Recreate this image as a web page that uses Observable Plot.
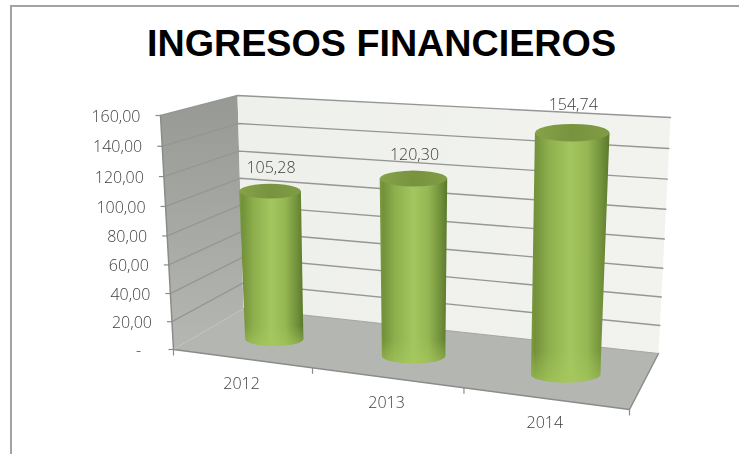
<!DOCTYPE html>
<html lang="es">
<head>
<meta charset="utf-8">
<script src="https://cdn.jsdelivr.net/npm/d3@7"></script>
<script src="https://cdn.jsdelivr.net/npm/@observablehq/plot@0.6"></script>
<style>
  html, body { margin: 0; padding: 0; background: #fff; }
  #page { position: relative; width: 739px; height: 454px; overflow: hidden; }
  #frame { position: absolute; left: 10px; top: 5px; right: -4px; bottom: -4px;
           border-left: 2px solid #a3a3a3; border-top: 2px solid #a3a3a3; }
  #title { position: relative; box-sizing: border-box; height: 80px; width: 739px; padding: 21px 0 0 24px;
           text-align: center; font: bold 37.7px/44px "Liberation Sans", Arial, sans-serif; color: #000; white-space: nowrap; }
  #chart { position: relative; display: block; }
  #chart svg { display: block; filter: blur(0.3px); }
</style>
</head>
<body>
<div id="page">
  <div id="frame"></div>
  <div id="title">INGRESOS FINANCIEROS</div>
  <div id="chart"></div>
</div>
<script>
// ---- data ----
const categories = ["2012", "2013", "2014"];
const values = [105.28, 120.30, 154.74];
const valueLabels = ["105,28", "120,30", "154,74"];
const axisTicks = [0, 20, 40, 60, 80, 100, 120, 140, 160];
const axisLabels = ["-\u00a0\u00a0\u00a0", "20,00", "40,00", "60,00", "80,00", "100,00", "120,00", "140,00", "160,00"];

// ---- 3D view model: maps (category position, depth, value) to the plane of the plot ----
const vMax = 160;
const view = {
  fl0: [173, 349], fl1: [160, 115],   // front-left, value 0 / max
  bl0: [243, 308], bl1: [237, 95],    // back-left
  br0: [658, 353], br1: [670, 117],   // back-right
  fr0: [629, 409], fr1: [638, 136],   // front-right
  uPersp: 0.14, vPersp: 0.06
};
const mix = (a, b, t) => [a[0] + (b[0] - a[0]) * t, a[1] + (b[1] - a[1]) * t];
function project(u, d, v) {
  const su = u / categories.length, sv = v / vMax;
  const t = su / (1 + view.uPersp * (1 - su));
  const w = sv / (1 + view.vPersp * (1 - sv));
  const front = mix(mix(view.fl0, view.fr0, t), mix(view.fl1, view.fr1, t), w);
  const back = mix(mix(view.bl0, view.br0, t), mix(view.bl1, view.br1, t), w);
  return mix(front, back, d);
}
const nU = categories.length;
const bar = { center: 0.525, depth: 0.46, radius: 0.218, capRatio: 0.235, labelLift: [23, 24, 28] };
const arc = (c, rx, from, to) => d3.range(0, 25).map(i => {
  const a = from + (to - from) * i / 24;
  return [c[0] + rx * Math.cos(a), c[1] + rx * bar.capRatio * Math.sin(a)];
});
const rxAt = (u, v) => {
  const a = project(u - bar.radius, bar.depth, v), b = project(u + bar.radius, bar.depth, v);
  return (b[0] - a[0]) / 2;
};
const cylinders = categories.map((c, i) => {
  const u = i + bar.center, v = values[i];
  const base = project(u, bar.depth, 0), top = project(u, bar.depth, v);
  const rb = rxAt(u, 0), rt = rxAt(u, v) * 1.03;
  return {
    category: c, top, base,
    body: [[top[0] - rt, top[1]], ...arc(base, rb, Math.PI, 0), [top[0] + rt, top[1]]],
    cap: arc(top, rt, 0, 2 * Math.PI)
  };
});
const rows = (pts, key) => pts.map(p => ({ x: p[0], y: p[1], key }));
const flat = (items, f) => items.flatMap((d, i) => rows(f(d), i));
const shape = (pts, fill, extra = {}) =>
  Plot.line(rows(pts, 0), { x: "x", y: "y", fill, stroke: "none", ...extra });

// ---- gradients ----
function defs() {
  const d = d3.create("svg:defs");
  const grad = (id, dir, stops) => {
    const g = d.append("linearGradient").attr("id", id)
      .attr("x1", 0).attr("y1", 0).attr("x2", dir === "h" ? 1 : 0).attr("y2", dir === "h" ? 0 : 1);
    stops.forEach(([o, c, a = 1]) => g.append("stop").attr("offset", o).attr("stop-color", c).attr("stop-opacity", a));
  };
  grad("gBody", "h", [[0, "#7d9c40"], [0.05, "#72913a"], [0.22, "#8dae4c"], [0.5, "#a4c660"], [0.72, "#95b652"], [0.9, "#71913a"], [1, "#5c782c"]]);
  grad("gRim", "v", [[0.87, "#a6c95c", 0], [1, "#a6c95c", 0.6]]);
  grad("gCap", "h", [[0, "#86a349"], [0.5, "#77933e"], [1, "#809d44"]]);
  grad("gSide", "v", [[0, "#979994"], [1, "#b5b7b2"]]);
  grad("gBack", "h", [[0, "#eef0eb"], [1, "#f2f3ef"]]);
  return d.node();
}

// ---- marks ----
const gridRows = axisTicks.filter(v => v > 0).flatMap(v => [
  { v, x: project(0, 0, v)[0], y: project(0, 0, v)[1] },
  { v, x: project(0, 1, v)[0], y: project(0, 1, v)[1] },
  { v, x: project(nU, 1, v)[0], y: project(nU, 1, v)[1] }
]);
const wallLeft = [project(0, 0, 0), project(0, 1, 0), project(0, 1, vMax), project(0, 0, vMax)];
const wallBack = [project(0, 1, 0), project(nU, 1, 0), project(nU, 1, vMax), project(0, 1, vMax)];
const floor = [project(0, 0, 0), project(0, 1, 0), project(nU, 1, 0), project(nU, 0, 0)];

const frontTicks = d3.range(0, nU + 1).map(u => ({ x: project(u, 0, 0)[0], y: project(u, 0, 0)[1] }));
const sideTicks = axisTicks.map((v, i) => ({ x: project(0, 0, v)[0], y: project(0, 0, v)[1], label: axisLabels[i] }));
const barLabels = cylinders.map((c, i) => ({ x: c.top[0] + 1, y: c.top[1] - bar.labelLift[i], label: valueLabels[i] }));
const catLabels = categories.map((c, i) => {
  const p = project(i + 0.5, 0, 0);
  return { x: p[0], y: p[1] + 25, label: c };
});
const textFont = { fontFamily: "'Open Sans', 'Noto Sans', sans-serif", fontWeight: 300, fontSize: 16, fill: "#404040", stroke: "none" };

const plot = Plot.plot({
  width: 739, height: 374,
  marginTop: 0, marginRight: 0, marginBottom: 0, marginLeft: 0,
  x: { domain: [0, 739], range: [0, 739], axis: null },
  y: { domain: [80, 454], range: [0, 374], axis: null },
  style: { background: "transparent" },
  marks: [
    defs,
    shape(wallLeft, "url(#gSide)"),
    shape(wallBack, "url(#gBack)"),
    shape(floor, "#b4b6b1"),
    Plot.line(gridRows, { x: "x", y: "y", z: "v", stroke: "#959795", strokeWidth: 1.4 }),
    // box edges
    Plot.line(rows([project(0, 0, vMax), project(0, 0, 0), project(nU, 0, 0), project(nU, 1, 0)], 0),
      { x: "x", y: "y", stroke: "#8a8c8a", strokeWidth: 1.5 }),
    Plot.line(rows([project(0, 1, 0), project(nU, 1, 0)], 0), { x: "x", y: "y", stroke: "#a4a6a2", strokeWidth: 1 }),
    Plot.link(frontTicks, { x1: "x", y1: "y", x2: "x", y2: d => d.y + 6, stroke: "#8a8c8a", strokeWidth: 1.2 }),
    Plot.link(sideTicks, { x1: d => d.x - 5, y1: "y", x2: "x", y2: "y", stroke: "#8a8c8a", strokeWidth: 1.2 }),
    // cylinders
    Plot.line(flat(cylinders, c => c.body), { x: "x", y: "y", z: "key", fill: "url(#gBody)", stroke: "none" }),
    Plot.line(flat(cylinders, c => c.body), { x: "x", y: "y", z: "key", fill: "url(#gRim)", stroke: "none" }),
    Plot.line(flat(cylinders, c => c.cap), { x: "x", y: "y", z: "key", fill: "url(#gCap)", stroke: "none" }),
    // labels
    Plot.text(sideTicks, { x: d => d.x - 20, y: d => d.y + 1, text: "label", textAnchor: "end", ...textFont }),
    Plot.text(barLabels, { x: "x", y: "y", text: "label", ...textFont }),
    Plot.text(catLabels, { x: "x", y: "y", text: "label", ...textFont })
  ]
});
document.getElementById("chart").append(plot);
</script>
</body>
</html>
